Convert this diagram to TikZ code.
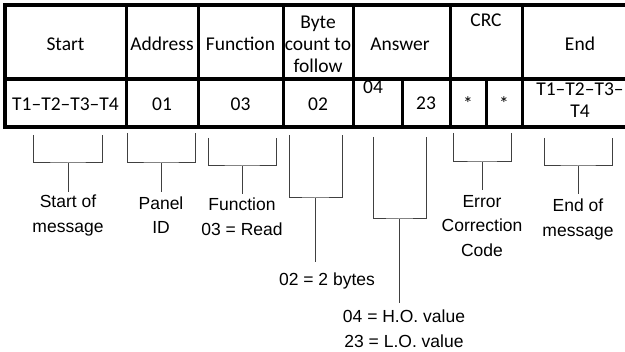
\documentclass[tikz,border=0pt]{standalone}
\usepackage{fontspec}
\setmainfont{Liberation Sans}
\newfontfamily\cellfont{Carlito}
\usetikzlibrary{positioning}
\tikzset{
  frame/.style  ={line width=4.8pt},
  gridline/.style={line width=3pt},
  rowline/.style={line width=4pt},
  cell/.style   ={font=\cellfont\fontsize{19.5}{22}\selectfont, inner sep=0pt, align=center},
  lbl/.style    ={font=\fontsize{17.5}{24.5}\selectfont, inner sep=0pt, align=center},
  brk/.style    ={line width=1pt, draw=black!75},
}

\begin{document}
\begin{tikzpicture}[x=1pt,y=-1pt]
    \useasboundingbox (0,0) rectangle (625,352);
    % table
    \draw[gridline] (126,5) -- (126,127);
    \draw[gridline] (198,5) -- (198,127);
    \draw[gridline] (283,5) -- (283,127);
    \draw[gridline] (353,5) -- (353,127);
    \draw[gridline] (450,5) -- (450,127);
    \draw[gridline] (522,5) -- (522,127);
    \draw[gridline] (402,79) -- (402,127);
    \draw[gridline] (486,79) -- (486,127);
    \draw[rowline] (5,79) -- (638,79);
    \draw[frame] (5,5) rectangle (638,127);
    % header row
    \node[cell, anchor=base] (start) at (65.5,51) {Start};
    \node[cell, anchor=base] (addr) at (162,51) {Address};
    \node[cell, anchor=base] (func) at (240.5,51) {Function};
    \node[cell, anchor=north] (count) at (318,15.7) {Byte\\count to\\follow};
    \node[cell, anchor=base] (answ) at (400,51) {Answer};
    \node[cell, anchor=base] (crc) at (486,27) {CRC};
    \node[cell, anchor=base] (end) at (580,51) {End};
    % value row
    \node[cell, anchor=base] (vstart) at (65.5,111) {T1–T2–T3–T4};
    \node[cell, anchor=base] (vaddr) at (162,111) {01};
    \node[cell, anchor=base] (vfunc) at (240.5,111) {03};
    \node[cell, anchor=base] (vcount) at (318,111) {02};
    \node[cell, anchor=base] (vhi) at (373,94) {04};
    \node[cell, anchor=base] (vlo) at (426,110) {23};
    \node[cell, anchor=base] (vcrca) at (468,111) {*};
    \node[cell, anchor=base] (vcrcb) at (504,111) {*};
    \node[cell, anchor=north] (vend) at (580,82.5) {T1–T2–T3–\\T4};
    % brackets and labels
    \coordinate (bstart) at (68,163);
    \coordinate (sstart) at (68,192);
    \draw[brk] (33,135) |- (bstart) -| (102,135);
    \draw[brk] (bstart) -- (sstart);
    \node[lbl, below=3pt of sstart] (lstart) {Start of\\message};

    \coordinate (baddr) at (161,163);
    \coordinate (saddr) at (161,192);
    \draw[brk] (127,133) |- (baddr) -| (195,133);
    \draw[brk] (baddr) -- (saddr);
    \node[lbl, below=4.5pt of saddr] (laddr) {Panel\\ID};

    \coordinate (bfunc) at (242,166);
    \coordinate (sfunc) at (242,194);
    \draw[brk] (208,138) |- (bfunc) -| (276,138);
    \draw[brk] (bfunc) -- (sfunc);
    \node[lbl, below=4pt of sfunc] (lfunc) {Function\\03 = Read};

    \coordinate (bcount) at (315,198);
    \coordinate (scount) at (315,262);
    \draw[brk] (289,135) |- (bcount) -| (342,135);
    \draw[brk] (bcount) -- (scount);
    \node[lbl, below=11pt of scount, xshift=12pt] (lcount) {02 = 2 bytes};

    \coordinate (bansw) at (399,219);
    \coordinate (sansw) at (399,303);
    \draw[brk] (373,137) |- (bansw) -| (426,137);
    \draw[brk] (bansw) -- (sansw);
    \node[lbl, below=7pt of sansw, xshift=5pt] (lansw) {04 = H.O. value\\23 = L.O. value};

    \coordinate (bcrc) at (482,162);
    \coordinate (scrc) at (482,190);
    \draw[brk] (453,133) |- (bcrc) -| (511,133);
    \draw[brk] (bcrc) -- (scrc);
    \node[lbl, below=5pt of scrc] (lcrc) {Error\\Correction\\Code};

    \coordinate (bend) at (578,166);
    \coordinate (send) at (578,194);
    \draw[brk] (544,138) |- (bend) -| (612,138);
    \draw[brk] (bend) -- (send);
    \node[lbl, below=5pt of send] (lend) {End of\\message};
\end{tikzpicture}
\end{document}
